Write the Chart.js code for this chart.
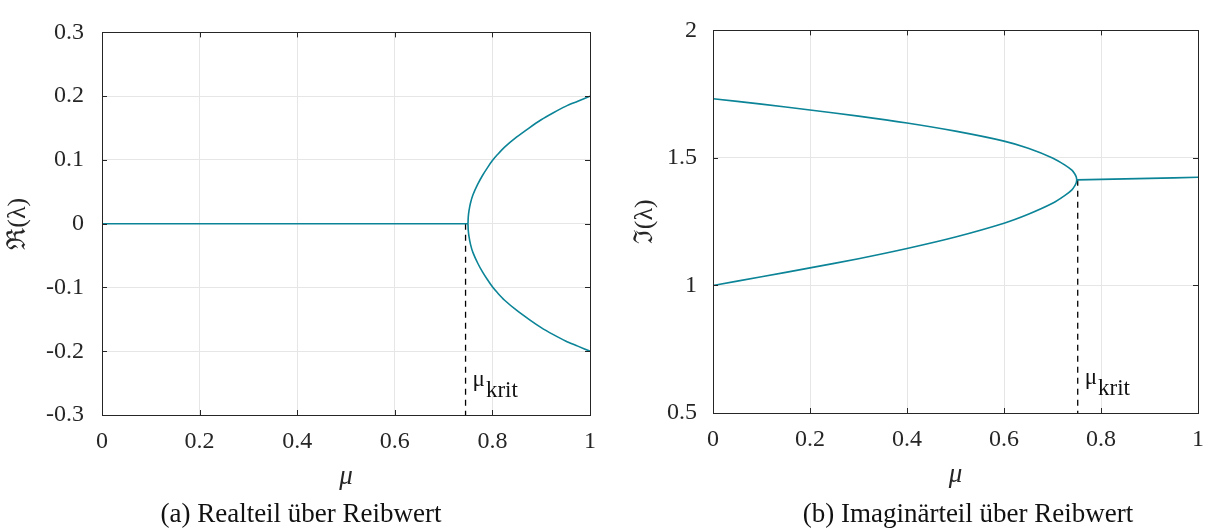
<!DOCTYPE html>
<html>
<head>
<meta charset="utf-8">
<script src="https://cdn.jsdelivr.net/npm/chart.js@4"></script>
<style>
  html, body { margin: 0; padding: 0; background: #fff; }
  .box { position: absolute; top: 0; width: 608px; height: 529px; }
</style>
</head>
<body>
<div class="box" style="left:0"><canvas id="reChart" width="608" height="529"></canvas></div>
<div class="box" style="left:608px"><canvas id="imChart" width="608" height="529"></canvas></div>
<script>
// (a) real part
const muZero = [0, 0.75];
const reZero = [0, 0];
const muRe = [0.75, 0.7505, 0.752, 0.755, 0.76, 0.77, 0.78, 0.79, 0.8, 0.81, 0.825, 0.85, 0.875, 0.9, 0.925, 0.95, 0.975, 1.0];
const reUpper = [0, 0.01, 0.02, 0.032, 0.045, 0.062, 0.076, 0.088, 0.099, 0.108, 0.12, 0.136, 0.15, 0.163, 0.174, 0.184, 0.192, 0.2];
const reLower = [0, -0.01, -0.02, -0.032, -0.045, -0.062, -0.076, -0.088, -0.099, -0.108, -0.12, -0.136, -0.15, -0.163, -0.174, -0.184, -0.192, -0.2];
const muKritRe = 0.745;
const reTicks = [-0.3, -0.2, -0.1, 0, 0.1, 0.2, 0.3];
const reTickLabels = ["-0.3", "-0.2", "-0.1", "0", "0.1", "0.2", "0.3"];

// (b) imaginary part
const muIm = [0, 0.1, 0.2, 0.3, 0.4, 0.5, 0.6, 0.65, 0.7, 0.725, 0.74, 0.746, 0.749, 0.75];
const imUpper = [1.732, 1.711, 1.688, 1.664, 1.637, 1.605, 1.566, 1.538, 1.5, 1.473, 1.452, 1.437, 1.425, 1.414];
const imLower = [1.0, 1.034, 1.069, 1.105, 1.145, 1.19, 1.244, 1.279, 1.322, 1.352, 1.375, 1.391, 1.403, 1.414];
const muFlat = [0.75, 0.8, 0.9, 1.0];
const imFlat = [1.414, 1.416, 1.42, 1.424];
const muKritIm = 0.752;
const imTicks = [0.5, 1, 1.5, 2];
const imTickLabels = ["0.5", "1", "1.5", "2"];

const muTicks = [0, 0.2, 0.4, 0.6, 0.8, 1];
const muTickLabels = ["0", "0.2", "0.4", "0.6", "0.8", "1"];

const SERIF = '"Liberation Serif", "DejaVu Serif", serif';
const LINE = "#0b8497";

const pts = (xs, ys) => xs.map((x, i) => ({ x: x, y: ys[i] }));

function branch(xs, ys) {
    return {
        data: pts(xs, ys),
        borderColor: LINE,
        borderWidth: 1.6,
        pointRadius: 0,
        tension: 0.3,
        fill: false
    };
}

function kritLine(mu, yTop, yBottom) {
    return {
        data: [{ x: mu, y: yTop }, { x: mu, y: yBottom }],
        borderColor: "#000",
        borderWidth: 1.3,
        borderDash: [6, 5],
        pointRadius: 0,
        fill: false
    };
}

// frame, inward ticks, mu_krit label, caption
const decoPlugin = {
    id: "deco",
    afterDraw(chart, args, opts) {
        const ctx = chart.ctx;
        const a = chart.chartArea;
        const xs = chart.scales.x, ys = chart.scales.y;
        ctx.save();
        ctx.strokeStyle = "#262626";
        ctx.lineWidth = 1;
        ctx.beginPath();
        xs.ticks.forEach(t => {
            const px = Math.round(xs.getPixelForValue(t.value)) + 0.5;
            ctx.moveTo(px, a.bottom); ctx.lineTo(px, a.bottom - 5);
            ctx.moveTo(px, a.top); ctx.lineTo(px, a.top + 5);
        });
        ys.ticks.forEach(t => {
            const py = Math.round(ys.getPixelForValue(t.value)) + 0.5;
            ctx.moveTo(a.left, py); ctx.lineTo(a.left + 5, py);
            ctx.moveTo(a.right, py); ctx.lineTo(a.right - 5, py);
        });
        ctx.stroke();
        ctx.strokeRect(Math.round(a.left) + 0.5, Math.round(a.top) + 0.5,
            Math.round(a.right - a.left), Math.round(a.bottom - a.top));

        // mu_krit label
        const kx = xs.getPixelForValue(opts.krit) + 7;
        ctx.fillStyle = "#111";
        ctx.textAlign = "left";
        ctx.textBaseline = "alphabetic";
        ctx.font = "23px " + SERIF;
        ctx.fillText("\u03bc", kx, a.bottom - 29);
        const w = ctx.measureText("\u03bc").width;
        ctx.fillText("krit", kx + w + 1, a.bottom - 18);

        // caption
        ctx.font = "27px " + SERIF;
        ctx.textAlign = "center";
        ctx.fillText(opts.caption, opts.captionX, 522);
        ctx.restore();
    }
};

function makeOptions(cfg) {
    return {
        responsive: false,
        animation: false,
        layout: { padding: { left: 0, top: cfg.top, right: cfg.right, bottom: cfg.bottom } },
        plugins: {
            legend: { display: false },
            tooltip: { enabled: false },
            deco: { krit: cfg.krit, caption: cfg.caption, captionX: cfg.captionX }
        },
        scales: {
            x: {
                type: "linear",
                min: 0, max: 1,
                afterBuildTicks: s => { s.ticks = muTicks.map(v => ({ value: v })); },
                afterFit: s => { s.height = 78; },
                ticks: {
                    callback: (v) => muTickLabels[muTicks.indexOf(v)],
                    font: { family: SERIF, size: 24 },
                    color: "#262626",
                    padding: 12,
                    maxRotation: 0
                },
                grid: { color: "#e6e6e6", drawTicks: false },
                border: { display: false },
                title: {
                    display: true,
                    text: "\u03bc",
                    font: { family: SERIF, size: 27, style: "italic" },
                    color: "#262626",
                    padding: { top: 0, bottom: 0 }
                }
            },
            y: {
                type: "linear",
                min: cfg.yTicks[0], max: cfg.yTicks[cfg.yTicks.length - 1],
                afterBuildTicks: s => { s.ticks = cfg.yTicks.map(v => ({ value: v })); },
                afterFit: s => { s.width = cfg.yWidth; },
                ticks: {
                    callback: (v) => cfg.yLabels[cfg.yTicks.indexOf(v)],
                    font: { family: SERIF, size: 24 },
                    color: "#262626",
                    padding: cfg.yPad
                },
                grid: { color: "#e6e6e6", drawTicks: false },
                border: { display: false },
                title: {
                    display: true,
                    text: cfg.yTitle,
                    font: { family: SERIF, size: 26 },
                    color: "#262626",
                    padding: { top: cfg.titlePad, bottom: 0 }
                }
            }
        }
    };
}

new Chart(document.getElementById("reChart"), {
    type: "line",
    data: {
        datasets: [
            branch(muZero, reZero),
            branch(muRe, reUpper),
            branch(muRe, reLower),
            kritLine(muKritRe, 0, -0.3)
        ]
    },
    options: makeOptions({
        top: 24, right: 16, bottom: 36,
        yWidth: 102, yPad: 18, titlePad: 3,
        yTicks: reTicks, yLabels: reTickLabels,
        yTitle: "\u211c(\u03bb)",
        krit: muKritRe,
        caption: "(a) Realteil \u00fcber Reibwert", captionX: 301
    }),
    plugins: [decoPlugin]
});

new Chart(document.getElementById("imChart"), {
    type: "line",
    data: {
        datasets: [
            branch(muIm, imUpper),
            branch(muIm, imLower),
            branch(muFlat, imFlat),
            kritLine(muKritIm, 1.414, 0.5)
        ]
    },
    options: makeOptions({
        top: 17, right: 8, bottom: 38,
        yWidth: 105, yPad: 16, titlePad: 22,
        yTicks: imTicks, yLabels: imTickLabels,
        yTitle: "\u2111(\u03bb)",
        krit: muKritIm,
        caption: "(b) Imagin\u00e4rteil \u00fcber Reibwert", captionX: 360
    }),
    plugins: [decoPlugin]
});
</script>
</body>
</html>
